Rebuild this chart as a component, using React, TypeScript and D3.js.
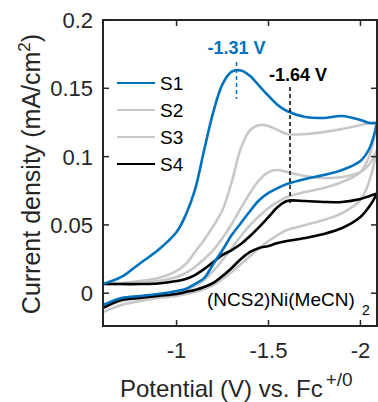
import React from 'react';
import * as d3 from 'd3';

// Potential grid (V vs Fc+/0)
const potential = [-0.6, -0.7, -0.8, -0.9, -1.0, -1.05, -1.1, -1.15, -1.2, -1.25, -1.3, -1.35, -1.4, -1.45, -1.5, -1.55, -1.6, -1.7, -1.8, -1.9, -2.0, -2.05, -2.09];

// Current density (mA/cm^2): forward (upper) and reverse (lower) scans
const s1Fwd = [0.0067, 0.0119, 0.0218, 0.0316, 0.0448, 0.0573, 0.0756, 0.1048, 0.1327, 0.1531, 0.1622, 0.1630, 0.1590, 0.1517, 0.1444, 0.1378, 0.1334, 0.1290, 0.1283, 0.1297, 0.1268, 0.1246, 0.1246];
const s1Rev = [-0.0086, -0.0035, -0.0020, -0.0006, 0.0016, 0.0031, 0.0067, 0.0111, 0.0214, 0.0316, 0.0426, 0.0514, 0.0602, 0.0682, 0.0734, 0.0770, 0.0799, 0.0836, 0.0865, 0.0902, 0.0968, 0.1063, 0.1246];
const s2Fwd = [0.0067, 0.0075, 0.0089, 0.0111, 0.0163, 0.0214, 0.0302, 0.0390, 0.0492, 0.0609, 0.0814, 0.1063, 0.1195, 0.1231, 0.1224, 0.1195, 0.1165, 0.1165, 0.1180, 0.1202, 0.1231, 0.1246, 0.1253];
const s2Rev = [-0.0108, -0.0057, -0.0035, -0.0013, 0.0009, 0.0024, 0.0053, 0.0097, 0.0163, 0.0243, 0.0331, 0.0419, 0.0499, 0.0565, 0.0624, 0.0668, 0.0704, 0.0741, 0.0770, 0.0814, 0.0887, 0.1012, 0.1253];
const s3Fwd = [0.0067, 0.0067, 0.0075, 0.0089, 0.0119, 0.0148, 0.0192, 0.0250, 0.0316, 0.0404, 0.0507, 0.0624, 0.0734, 0.0829, 0.0887, 0.0902, 0.0887, 0.0858, 0.0843, 0.0851, 0.0887, 0.0946, 0.1048];
const s3Rev = [-0.0138, -0.0086, -0.0057, -0.0035, -0.0020, -0.0006, 0.0009, 0.0031, 0.0060, 0.0104, 0.0155, 0.0214, 0.0272, 0.0331, 0.0382, 0.0426, 0.0463, 0.0499, 0.0536, 0.0587, 0.0682, 0.0829, 0.1048];
const s4Fwd = [0.0067, 0.0067, 0.0067, 0.0071, 0.0089, 0.0104, 0.0133, 0.0177, 0.0228, 0.0280, 0.0316, 0.0360, 0.0419, 0.0485, 0.0558, 0.0631, 0.0675, 0.0675, 0.0668, 0.0668, 0.0690, 0.0712, 0.0730];
const s4Rev = [-0.0108, -0.0050, -0.0035, -0.0020, -0.0006, 0.0009, 0.0024, 0.0046, 0.0075, 0.0126, 0.0185, 0.0250, 0.0302, 0.0331, 0.0346, 0.0368, 0.0382, 0.0404, 0.0433, 0.0477, 0.0558, 0.0638, 0.0730];

const seriesNames = ['S1', 'S2', 'S3', 'S4'];
const seriesColors = ['#0072BD', '#c8c8c8', '#c8c8c8', '#000000'];
const seriesFwd = [s1Fwd, s2Fwd, s3Fwd, s4Fwd];
const seriesRev = [s1Rev, s2Rev, s3Rev, s4Rev];
const drawOrder = [2, 1, 3, 0];

const xTicks = [-1, -1.5, -2];
const xTickLabels = ['-1', '-1.5', '-2'];
const yTicks = [0, 0.05, 0.1, 0.15, 0.2];
const yTickLabels = ['0', '0.05', '0.1', '0.15', '0.2'];

// peak annotations
const peak1 = { pos: -1.326, y0: 0.1422, y1: 0.1692, label: '-1.31 V' };
const peak4 = { pos: -1.617, y0: 0.0646, y1: 0.1509, label: '-1.64 V' };

const W = 378;
const H = 402;
const L = 103, R = 377, T = 20, B = 326;
const FONT = '"Liberation Sans", Arial, Helvetica, sans-serif';
const AX = '#262626';

export default function App() {
  const x = d3.scaleLinear().domain([-0.6, -2.09]).range([L, R]);
  const y = d3.scaleLinear().domain([-0.024, 0.2]).range([B, T]);
  const line = d3
    .line<number>()
    .x((_, i) => x(potential[i]))
    .y((d) => y(d))
    .curve(d3.curveCatmullRom.alpha(0.5));

  const tick = 6;

  return (
    <svg width={W} height={H} style={{ position: 'absolute', left: 0, top: 0, background: '#fff' }} fontFamily={FONT}>
      <defs>
        <clipPath id="plot">
          <rect x={L} y={T} width={R - L} height={B - T} />
        </clipPath>
      </defs>
      <rect x={0} y={0} width={W} height={H} fill="#fff" />

      {/* curves */}
      <g clipPath="url(#plot)" fill="none" strokeWidth={2.6} strokeLinejoin="round" strokeLinecap="round">
        {drawOrder.map((i) => (
          <g key={i} stroke={seriesColors[i]}>
            <path d={line(seriesFwd[i]) || ''} />
            <path d={line(seriesRev[i]) || ''} />
          </g>
        ))}
      </g>

      {/* peak markers */}
      <line x1={x(peak1.pos)} x2={x(peak1.pos)} y1={y(peak1.y1)} y2={y(peak1.y0)} stroke="#0072BD" strokeWidth={1.5} strokeDasharray="4,3" />
      <line x1={x(peak4.pos)} x2={x(peak4.pos)} y1={y(peak4.y1)} y2={y(peak4.y0)} stroke="#000" strokeWidth={1.5} strokeDasharray="4,3" />
      <text x={x(peak1.pos)} y={y(peak1.y1) - 8} textAnchor="middle" fontSize={18} fontWeight="bold" fill="#0072BD">{peak1.label}</text>
      <text x={x(peak4.pos) + 8} y={y(peak4.y1) - 6} textAnchor="middle" fontSize={18} fontWeight="bold" fill="#000">{peak4.label}</text>

      {/* compound label */}
      <text x={207} y={306} fontSize={19} fill="#000">(NCS2)Ni(MeCN)</text>
      <text x={362} y={315} fontSize={14} fill="#000">2</text>

      {/* axes box */}
      <rect x={L} y={T} width={R - L} height={B - T} fill="none" stroke={AX} strokeWidth={2} />
      {xTicks.map((t) => (
        <g key={'x' + t} stroke={AX} strokeWidth={1.5}>
          <line x1={x(t)} x2={x(t)} y1={B} y2={B - tick} />
          <line x1={x(t)} x2={x(t)} y1={T} y2={T + tick} />
        </g>
      ))}
      {yTicks.map((t) => (
        <g key={'y' + t} stroke={AX} strokeWidth={1.5}>
          <line x1={L} x2={L + tick} y1={y(t)} y2={y(t)} />
          <line x1={R} x2={R - tick} y1={y(t)} y2={y(t)} />
        </g>
      ))}
      {xTicks.map((t, i) => (
        <text key={'xl' + t} x={x(t)} y={B + 32} textAnchor="middle" fontSize={22} fill={AX}>{xTickLabels[i]}</text>
      ))}
      {yTicks.map((t, i) => (
        <text key={'yl' + t} x={L - 10} y={y(t) + 8} textAnchor="end" fontSize={22} fill={AX}>{yTickLabels[i]}</text>
      ))}

      {/* axis titles */}
      <text x={120} y={397} fontSize={24} fill={AX}>
        Potential (V) vs. Fc
        <tspan fontSize={19} dy={-11} dx={3}>+/0</tspan>
      </text>
      <text transform={`translate(40,${(T + B) / 2 + 1}) rotate(-90)`} textAnchor="middle" fontSize={25} fill={AX}>
        Current density (mA/cm
        <tspan fontSize={17} dy={-10}>2</tspan>
        <tspan dy={10}>)</tspan>
      </text>

      {/* legend */}
      {seriesNames.map((n, i) => (
        <g key={n}>
          <line x1={117} x2={155} y1={83 + i * 27} y2={83 + i * 27} stroke={seriesColors[i]} strokeWidth={2.2} />
          <text x={160} y={83 + i * 27 + 7} fontSize={19} fill="#000">{n}</text>
        </g>
      ))}
    </svg>
  );
}
